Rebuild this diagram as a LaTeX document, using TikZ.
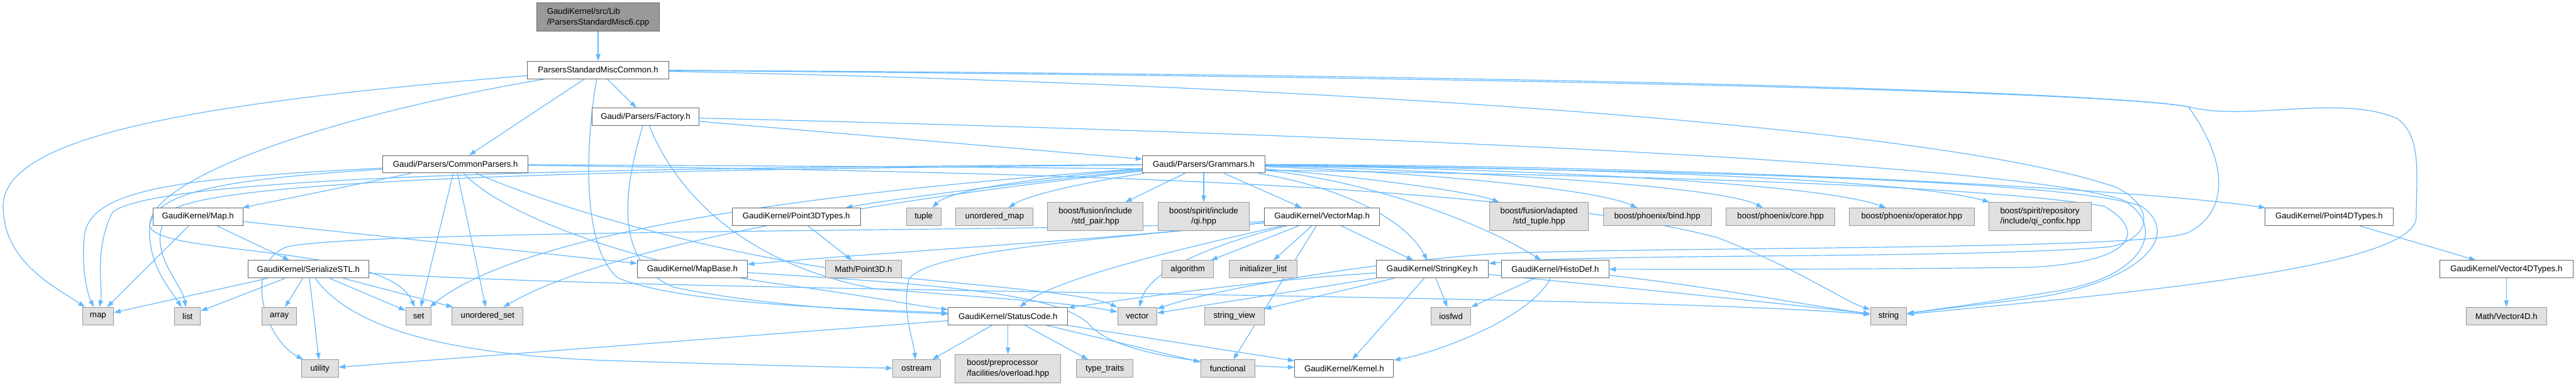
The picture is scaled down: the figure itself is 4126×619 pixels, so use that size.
\documentclass[tikz,border=0pt]{standalone}
\usepackage{fontspec}
\setmainfont{Liberation Sans}
\usetikzlibrary{arrows.meta}
\definecolor{eblue}{HTML}{63B8FF}
\definecolor{bdark}{HTML}{666666}
\definecolor{bgray}{HTML}{999999}
\definecolor{fgray}{HTML}{E0E0E0}
\pgfdeclarelayer{bg}
\pgfsetlayers{bg,main}
\tikzset{
  box/.style={rectangle, inner sep=0pt, line width=0.75pt, minimum height=21pt,
    font=\fontsize{10}{12.5}\selectfont},
  wb/.style={box, draw=bdark, fill=white},
  gb/.style={box, draw=bgray, fill=fgray},
  db/.style={box, draw=bdark, fill=bgray},
  tall/.style={minimum height=33.75pt},
  ln/.style={draw=eblue, line width=0.9pt, -{Triangle[length=8pt,width=5.5pt]}}
}
\begin{document}
\begin{tikzpicture}[x=0.75pt,y=-0.75pt]
\useasboundingbox (0,0) rectangle (4126,619);
% row 0-3
\node[db,tall,align=left,minimum width=147pt] (cpp) at (958,27.5) {GaudiKernel/src/Lib\\/ParsersStandardMisc6.cpp};
\node[wb,minimum width=169.5pt] (MC) at (958,112) {ParsersStandardMiscCommon.h};
\node[wb,minimum width=129pt] (Fac) at (1034,187) {Gaudi/Parsers/Factory.h};
\node[wb,minimum width=174.75pt] (CP) at (729.5,263) {Gaudi/Parsers/CommonParsers.h};
\node[wb,minimum width=147pt] (Gr) at (1928,263) {Gaudi/Parsers/Grammars.h};
% row 4
\node[wb,minimum width=108pt] (MapH) at (317,347) {GaudiKernel/Map.h};
\node[wb,minimum width=153.75pt] (P3T) at (1275.5,347) {GaudiKernel/Point3DTypes.h};
\node[gb,minimum width=41.25pt] (tuple) at (1479.5,347) {tuple};
\node[gb,minimum width=93pt] (umap) at (1593,347) {unordered\_map};
\node[gb,tall,align=center,minimum width=114.75pt] (pair) at (1754.5,346.5) {boost/fusion/include\\/std\_pair.hpp};
\node[gb,tall,align=center,minimum width=109.5pt] (qi) at (1928,346.5) {boost/spirit/include\\/qi.hpp};
\node[wb,minimum width=138.75pt] (VM) at (2117.5,347) {GaudiKernel/VectorMap.h};
\node[gb,tall,align=center,minimum width=118.5pt] (stdtuple) at (2465,346.5) {boost/fusion/adapted\\/std\_tuple.hpp};
\node[gb,minimum width=129.75pt] (bind) at (2654.5,347) {boost/phoenix/bind.hpp};
\node[gb,minimum width=130.5pt] (core) at (2852,347) {boost/phoenix/core.hpp};
\node[gb,minimum width=150pt] (oper) at (3062,347) {boost/phoenix/operator.hpp};
\node[gb,tall,align=left,minimum width=123pt] (confix) at (3268,346.5) {boost/spirit/repository\\/include/qi\_confix.hpp};
\node[wb,minimum width=153.75pt] (P4T) at (3730.5,347) {GaudiKernel/Point4DTypes.h};
% row 5
\node[wb,minimum width=145.5pt] (SSTL) at (494,431) {GaudiKernel/SerializeSTL.h};
\node[wb,minimum width=132pt] (MapBase) at (1109,431) {GaudiKernel/MapBase.h};
\node[gb,minimum width=91.5pt] (Point3D) at (1383,431) {Math/Point3D.h};
\node[gb,minimum width=62.25pt] (algorithm) at (1902.5,431) {algorithm};
\node[gb,minimum width=81.75pt] (initlist) at (2023.5,431) {initializer\_list};
\node[wb,minimum width=135pt] (SK) at (2294,431) {GaudiKernel/StringKey.h};
\node[wb,minimum width=129pt] (HD) at (2491,431) {GaudiKernel/HistoDef.h};
\node[wb,minimum width=159.75pt] (V4T) at (4014.5,431) {GaudiKernel/Vector4DTypes.h};
% row 6
\node[gb,minimum width=37.5pt] (map) at (157,506) {map};
\node[gb,minimum width=30.75pt] (list) at (300.5,506) {list};
\node[gb,minimum width=41.25pt] (array) at (447.5,506) {array};
\node[gb,minimum width=30.75pt] (set) at (670.5,506) {set};
\node[gb,minimum width=85.5pt] (uset) at (781,506) {unordered\_set};
\node[wb,minimum width=143.25pt] (SC) at (1614.5,506) {GaudiKernel/StatusCode.h};
\node[gb,minimum width=47.25pt] (vector) at (1821.5,506) {vector};
\node[gb,minimum width=72pt] (sview) at (1977,506) {string\_view};
\node[gb,minimum width=48pt] (iosfwd) at (2324,506) {iosfwd};
\node[gb,minimum width=43.5pt] (string) at (3025,506) {string};
\node[gb,minimum width=96.75pt] (V4D) at (4014.5,506) {Math/Vector4D.h};
% row 7
\node[gb,minimum width=44.25pt] (utility) at (512.5,590) {utility};
\node[gb,minimum width=57pt] (ostream) at (1468,590) {ostream};
\node[gb,tall,align=left,minimum width=126.75pt] (overload) at (1614.5,590) {boost/preprocessor\\/facilities/overload.hpp};
\node[gb,minimum width=68.25pt] (ttraits) at (1769.5,590) {type\_traits};
\node[gb,minimum width=65.25pt] (functional) at (1966.5,590) {functional};
\node[wb,minimum width=118.5pt] (Kernel) at (2153,590) {GaudiKernel/Kernel.h};

\begin{pgfonlayer}{bg}
\draw[ln] (cpp) -- (MC);
% ParsersStandardMiscCommon.h
\draw[ln] (MC) -- (CP);
\draw[ln] (MC) -- (Fac);
\draw[ln] (MC) .. controls (300,165) and (5,220) .. (5,330) .. controls (5,420) and (90,460) .. (map);
\draw[ln] (MC) .. controls (500,190) and (240,290) .. (240,360) .. controls (240,410) and (620,390) .. (set);
\draw[ln] (MC) .. controls (935,250) and (935,400) .. (990,445) .. controls (1100,490) and (1400,495) .. (SC);
\draw[ln] (MC) .. controls (2600,125) and (3400,150) .. (3505,171) .. controls (3600,195) and (3750,150) .. (3840,190) .. controls (3880,220) and (3870,280) .. (3870,350) .. controls (3860,430) and (3400,470) .. (string);
\draw[ln] (MC) .. controls (2600,120) and (3400,150) .. (3505,171) .. controls (3570,260) and (3570,340) .. (3505,372) .. controls (3450,400) and (2700,395) .. (2420,405) .. controls (2250,412) and (1950,460) .. (vector);
\draw[ln] (MC) .. controls (2100,135) and (3100,200) .. (3390,300) .. controls (3450,330) and (3450,380) .. (3380,395) .. controls (3150,415) and (2550,405) .. (SK);
% Factory.h
\draw[ln] (Fac) -- (Gr);
\draw[ln] (Fac) .. controls (1000,300) and (980,420) .. (1080,460) .. controls (1250,495) and (1450,500) .. (SC);
\draw[ln] (Fac) .. controls (1080,300) and (1180,420) .. (1400,462) .. controls (1600,478) and (1720,485) .. (vector);
\draw[ln] (Fac) .. controls (2000,210) and (3200,255) .. (3400,320) .. controls (3470,360) and (3440,440) .. (3300,465) .. controls (3180,485) and (3100,495) .. (string);
% CommonParsers.h
\draw[ln] (CP) -- (MapH);
\draw[ln] (CP) .. controls (300,285) and (140,300) .. (135,380) .. controls (130,430) and (140,470) .. (map);
\draw[ln] (CP) .. controls (400,285) and (250,300) .. (240,360) .. controls (235,420) and (270,460) .. (list);
\draw[ln] (CP) -- (set);
\draw[ln] (CP) -- (uset);
\draw[ln] (CP) .. controls (800,340) and (1000,420) .. (1250,455) .. controls (1400,475) and (1470,490) .. (SC);
\draw[ln] (CP) .. controls (860,320) and (1100,400) .. (1400,440) .. controls (1600,460) and (1740,470) .. (vector);
\draw[ln] (CP) .. controls (1600,275) and (2400,290) .. (2750,380) .. controls (2880,430) and (2950,480) .. (string);
\draw[ln] (CP) .. controls (1600,268) and (3000,270) .. (3370,330) .. controls (3440,370) and (3420,420) .. (3250,428) .. controls (2900,432) and (2700,431) .. (HD);
% Grammars.h
\draw[ln] (Gr) .. controls (1700,285) and (1450,315) .. (P3T);
\draw[ln] (Gr) .. controls (1650,285) and (1520,305) .. (tuple);
\draw[ln] (Gr) .. controls (1750,290) and (1650,310) .. (umap);
\draw[ln] (Gr) -- (pair);
\draw[ln] (Gr) -- (qi);
\draw[ln] (Gr) -- (VM);
\draw[ln] (Gr) .. controls (2150,280) and (2350,305) .. (stdtuple);
\draw[ln] (Gr) .. controls (2250,275) and (2550,300) .. (bind);
\draw[ln] (Gr) .. controls (2300,272) and (2750,295) .. (core);
\draw[ln] (Gr) .. controls (2400,270) and (2900,290) .. (oper);
\draw[ln] (Gr) .. controls (2500,268) and (3050,285) .. (confix);
\draw[ln] (Gr) .. controls (2700,265) and (3400,300) .. (P4T);
\draw[ln] (Gr) .. controls (2150,300) and (2250,350) .. (SK);
\draw[ln] (Gr) .. controls (2200,290) and (2380,360) .. (HD);
\draw[ln] (Gr) .. controls (1000,268) and (250,280) .. (180,340) .. controls (150,400) and (165,460) .. (map);
\draw[ln] (Gr) .. controls (1000,272) and (330,285) .. (270,340) .. controls (230,400) and (290,450) .. (list);
\draw[ln] (Gr) .. controls (1400,300) and (850,360) .. (set);
\draw[ln] (Gr) .. controls (1500,310) and (1000,380) .. (uset);
\draw[ln] (Gr) .. controls (2600,272) and (3300,285) .. (3430,330) .. controls (3500,380) and (3420,455) .. (3250,478) .. controls (3150,490) and (3090,497) .. (string);
% Map.h
\draw[ln] (MapH) -- (map);
\draw[ln] (MapH) -- (SSTL);
\draw[ln] (MapH) -- (MapBase);
% SerializeSTL.h
\draw[ln] (SSTL) -- (map);
\draw[ln] (SSTL) -- (list);
\draw[ln] (SSTL) -- (array);
\draw[ln] (SSTL) -- (set);
\draw[ln] (SSTL) -- (uset);
\draw[ln] (SSTL) -- (utility);
\draw[ln] (SSTL) .. controls (560,520) and (700,570) .. (1000,578) .. controls (1200,584) and (1350,588) .. (ostream);
\draw[ln] (SSTL) .. controls (1100,470) and (2600,470) .. (string);
% MapBase.h
\draw[ln] (MapBase) .. controls (1500,455) and (1700,470) .. (1745,520) .. controls (1790,570) and (1950,585) .. (Kernel);
% VectorMap.h
\draw[ln] (VM) .. controls (1750,385) and (1400,405) .. (MapBase);
\draw[ln] (VM) -- (algorithm);
\draw[ln] (VM) -- (initlist);
\draw[ln] (VM) -- (SK);
\draw[ln] (VM) -- (functional);
\draw[ln] (VM) .. controls (1950,390) and (1840,430) .. (vector);
\draw[ln] (VM) .. controls (1800,372) and (600,365) .. (460,395) .. controls (390,420) and (420,540) .. (utility);
\draw[ln] (VM) .. controls (1800,380) and (1470,400) .. (1455,450) .. controls (1445,500) and (1462,540) .. (ostream);
\draw[ln] (VM) .. controls (1950,385) and (1700,440) .. (SC);
% StringKey.h
\draw[ln] (SK) .. controls (2000,450) and (1800,480) .. (SC);
\draw[ln] (SK) -- (vector);
\draw[ln] (SK) -- (sview);
\draw[ln] (SK) -- (iosfwd);
\draw[ln] (SK) -- (Kernel);
\draw[ln] (SK) .. controls (2550,455) and (2850,485) .. (string);
% HistoDef.h
\draw[ln] (HD) -- (iosfwd);
\draw[ln] (HD) .. controls (2450,510) and (2300,565) .. (Kernel);
\draw[ln] (HD) .. controls (2750,460) and (2900,490) .. (string);
% StatusCode.h
\draw[ln] (SC) -- (ostream);
\draw[ln] (SC) -- (overload);
\draw[ln] (SC) -- (ttraits);
\draw[ln] (SC) -- (functional);
\draw[ln] (SC) -- (Kernel);
\draw[ln] (SC) -- (utility);
% others
\draw[ln] (P3T) -- (Point3D);
\draw[ln] (P4T) -- (V4T);
\draw[ln] (V4T) -- (V4D);
\end{pgfonlayer}
\end{tikzpicture}
\end{document}
